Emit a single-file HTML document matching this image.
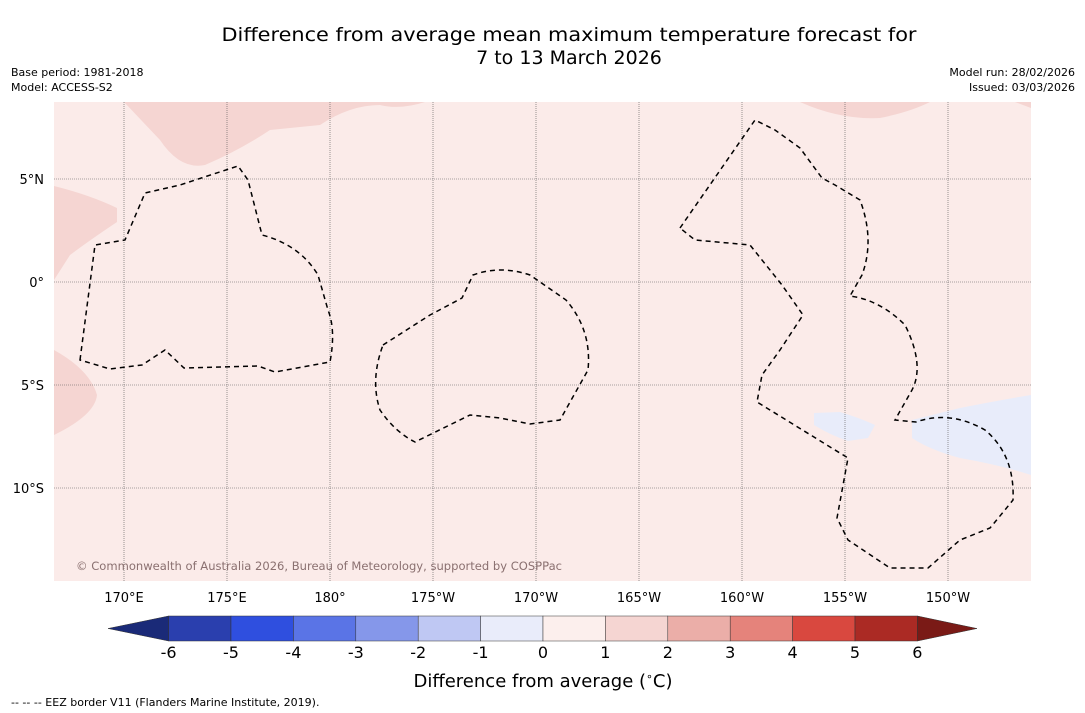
<!DOCTYPE html>
<html><head><meta charset="utf-8"><style>
body{margin:0;width:1085px;height:713px;background:#fff;font-family:"DejaVu Sans","Liberation Sans",sans-serif;overflow:hidden;position:relative}
.t{position:absolute;white-space:nowrap}
</style></head><body>
<svg id="map" width="1085" height="713" style="position:absolute;left:0;top:0;font-family:'DejaVu Sans','Liberation Sans',sans-serif">
<text x="569" y="41" font-size="19" text-anchor="middle" textLength="695" lengthAdjust="spacingAndGlyphs">Difference from average mean maximum temperature forecast for</text>
<text x="569" y="64" font-size="19" text-anchor="middle">7 to 13 March 2026</text>
<text x="11" y="76" font-size="11">Base period: 1981-2018</text>
<text x="11" y="91" font-size="11">Model: ACCESS-S2</text>
<text x="1075" y="76" font-size="11" text-anchor="end">Model run: 28/02/2026</text>
<text x="1075" y="91" font-size="11" text-anchor="end">Issued: 03/03/2026</text>
<defs><clipPath id="c"><rect x="54" y="102" width="977" height="479"/></clipPath></defs>
<g clip-path="url(#c)">
<rect x="54" y="102" width="977" height="479" fill="#fbebe9"/>
<path d="M124,102 L160,140 Q180,170 205,165 Q240,150 270,130 L320,125 Q350,105 380,105 Q400,110 425,102 Z" fill="#f5d5d2"/>
<path d="M54,186 Q90,195 117,208 L117,222 Q90,240 70,255 L54,280 Z" fill="#f5d5d2"/>
<path d="M54,350 Q90,370 97,395 Q95,415 54,435 Z" fill="#f5d5d2"/>
<path d="M800,102 Q840,120 880,118 Q910,112 930,102 Z M1015,102 L1031,108 L1031,102 Z" fill="#f5d5d2"/>
<path d="M912,420 L960,408 Q1000,400 1031,395 L1031,475 Q1000,465 960,458 Q930,450 912,438 Z" fill="#e8ecfa"/>
<path d="M814,413 L840,412 Q860,418 875,425 L868,438 L848,441 Q830,435 814,425 Z" fill="#e8ecfa"/>
<g id="grid" stroke="#555" stroke-width="0.6" stroke-dasharray="1,1"></g>
<g fill="none" stroke="#000" stroke-width="1.5" stroke-dasharray="5,4">
<path d="M80,360 L95,245 L125,240 L145,193 L180,185 L238,166 L248,180 L262,235 Q300,245 318,275 L328,310 Q336,330 330,362 L275,372 L258,366 L184,368 L165,350 L142,365 L110,369 Z"/>
<path d="M383,345 L430,315 L462,298 L473,275 Q500,265 530,275 L566,300 Q592,330 588,370 L560,420 L530,424 L500,418 L470,415 L415,442 Q395,432 380,410 Q370,380 383,345 Z"/>
<path d="M680,228 L755,120 L775,130 L800,148 L822,178 L835,185 L860,200 Q875,240 862,275 L850,296 Q880,300 905,325 Q925,365 912,390 L895,420 L916,422 Q950,410 985,430 Q1015,455 1013,500 Q1005,510 990,528 L960,540 L928,568 L890,568 L848,540 L837,518 L848,458 L757,402 L762,375 L780,350 L803,315 L782,285 L750,245 L695,240 Z"/>
</g>
</g>
<text x="76" y="570" font-size="11.5" fill="#8a7070" textLength="486" lengthAdjust="spacingAndGlyphs">© Commonwealth of Australia 2026, Bureau of Meteorology, supported by COSPPac</text>
<g id="axes" font-size="13" fill="#000"></g>
<g id="cbar"></g>
<text x="543" y="687" font-size="18" text-anchor="middle">Difference from average (<tspan font-size="11" dy="-7">∘</tspan><tspan dy="7">C)</tspan></text>
<text x="11" y="706" font-size="11">--  --  -- EEZ border V11 (Flanders Marine Institute, 2019).</text>
</svg>
<script>
const lonLabels=["170°E","175°E","180°","175°W","170°W","165°W","160°W","155°W","150°W"];
const lonValues=[170,175,180,185,190,195,200,205,210];
const latLabels=["5°N","0°","5°S","10°S"];
const latValues=[5,0,-5,-10];
const cbarTicks=[-6,-5,-4,-3,-2,-1,0,1,2,3,4,5,6];
const cbarColors=["#2a3fae","#2f4fdf","#5a74e6","#8597ea","#bfc8f3","#e9ecfa","#fcefed","#f5d5d2","#ebaea8","#e5837b","#d9483f","#ab2a24"];
const NS="http://www.w3.org/2000/svg";
const xs=l=>124+(l-170)*20.6;
const ys=l=>282-l*20.6;
const grid=document.getElementById('grid'),axes=document.getElementById('axes'),cb=document.getElementById('cbar');
function mk(t,a,p){const e=document.createElementNS(NS,t);for(const k in a)e.setAttribute(k,a[k]);p.appendChild(e);return e;}
lonValues.forEach((v,i)=>{
 const l=mk('line',{x1:xs(v),x2:xs(v),y1:102,y2:581},grid);
 
 
 const t=mk('text',{x:xs(v),y:602,'text-anchor':'middle'},axes);t.textContent=lonLabels[i];
 
 
});
latValues.forEach((v,i)=>{
 const l=mk('line',{x1:54,x2:1031,y1:ys(v),y2:ys(v)},grid);
 
 
 const t=mk('text',{x:44,y:ys(v)+5,'text-anchor':'end'},axes);t.textContent=latLabels[i];
 
 
});
const cx=v=>543+v*62.4, cy0=616, cy1=641;
cbarColors.forEach((c,i)=>{
 const r=mk('rect',{x:cx(cbarTicks[i]),y:cy0,width:62.4,height:25,fill:c,stroke:'#333','stroke-width':0.5},cb);
 
 
});
const lt=mk('polygon',{points:`${cx(-6)},${cy0} 108,628.5 ${cx(-6)},${cy1}`,fill:'#1a2a78',stroke:'#333','stroke-width':0.5},cb);


const rt=mk('polygon',{points:`${cx(6)},${cy0} 977,628.5 ${cx(6)},${cy1}`,fill:'#7a1a16',stroke:'#333','stroke-width':0.5},cb);


cbarTicks.forEach(v=>{
 const t=mk('text',{x:cx(v),y:658,'text-anchor':'middle','font-size':16},cb);t.textContent=v;
 
 
});
</script>
</body></html>
